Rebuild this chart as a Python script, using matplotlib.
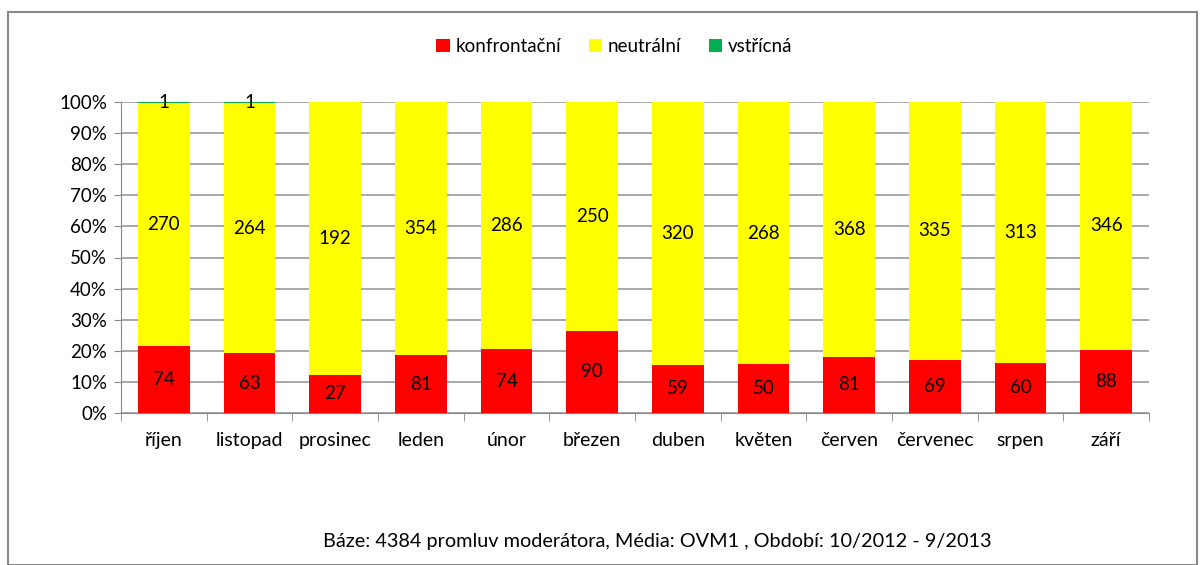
import numpy as np
import matplotlib.pyplot as plt
from matplotlib.patches import Rectangle
from matplotlib.ticker import PercentFormatter

months = ["říjen", "listopad", "prosinec", "leden", "únor", "březen",
          "duben", "květen", "červen", "červenec", "srpen", "září"]
konfrontacni = [74, 63, 27, 81, 74, 90, 59, 50, 81, 69, 60, 88]
neutralni = [270, 264, 192, 354, 286, 250, 320, 268, 368, 335, 313, 346]
vstricna = [1, 1, 0, 0, 0, 0, 0, 0, 0, 0, 0, 0]

series = [("konfrontační", konfrontacni, "#ff0000"),
          ("neutrální", neutralni, "#ffff00"),
          ("vstřícná", vstricna, "#00b050")]

plt.rcParams['font.family'] = ['Lato', 'DejaVu Sans']

fig = plt.figure(figsize=(12.03, 5.65), dpi=100)
fig.patches.append(Rectangle((8 / 1203, 0), 1189 / 1203, 1 - 12 / 565,
                             transform=fig.transFigure, fill=False,
                             edgecolor="#888888", linewidth=1.5))
ax = fig.add_axes([121 / 1203, 1 - 413 / 565, 1028 / 1203, 311 / 565])

x = np.arange(len(months))
totals = np.array(konfrontacni) + np.array(neutralni) + np.array(vstricna)
bottom = np.zeros(len(months))
for name, vals, color in series:
    share = np.array(vals) / totals * 100
    ax.bar(x, share, 0.6, bottom=bottom, color=color, label=name, zorder=3)
    for i, v in enumerate(vals):
        if v > 0:
            ax.text(x[i], bottom[i] + share[i] / 2, str(v), ha="center",
                    va="center", fontsize=13.5, zorder=4)
    bottom += share

ax.set_xlim(-0.5, len(months) - 0.5)
ax.set_ylim(0, 100)
ax.set_yticks(np.arange(0, 101, 10))
ax.yaxis.set_major_formatter(PercentFormatter(decimals=0))
ax.yaxis.grid(True, color="#999999", linewidth=1.2, zorder=0)
ax.set_xticks(x)
ax.set_xticklabels(months)
ax.set_xticks(np.arange(-0.5, len(months)), minor=True)
ax.tick_params(axis="x", which="major", length=0, pad=14, labelsize=14)
ax.tick_params(axis="x", which="minor", length=6, color="#888888")
ax.tick_params(axis="y", length=5, color="#888888", labelsize=13.5, pad=5)
for s in ["top", "right"]:
    ax.spines[s].set_visible(False)
ax.spines["left"].set_color("#888888")
ax.spines["bottom"].set_color("#888888")

ax.legend(loc="upper center", bbox_to_anchor=(0.48, 1.26), ncol=3,
          frameon=False, fontsize=13.5, handlelength=0.7, handleheight=0.7,
          handletextpad=0.3, columnspacing=1.5)

fig.text(657 / 1203, 1 - 541 / 565, "Báze: 4384 promluv moderátora, Média: OVM1 , Období: 10/2012 - 9/2013",
         ha="center", va="center", fontsize=14.3)

plt.savefig("out.png", dpi=100)
